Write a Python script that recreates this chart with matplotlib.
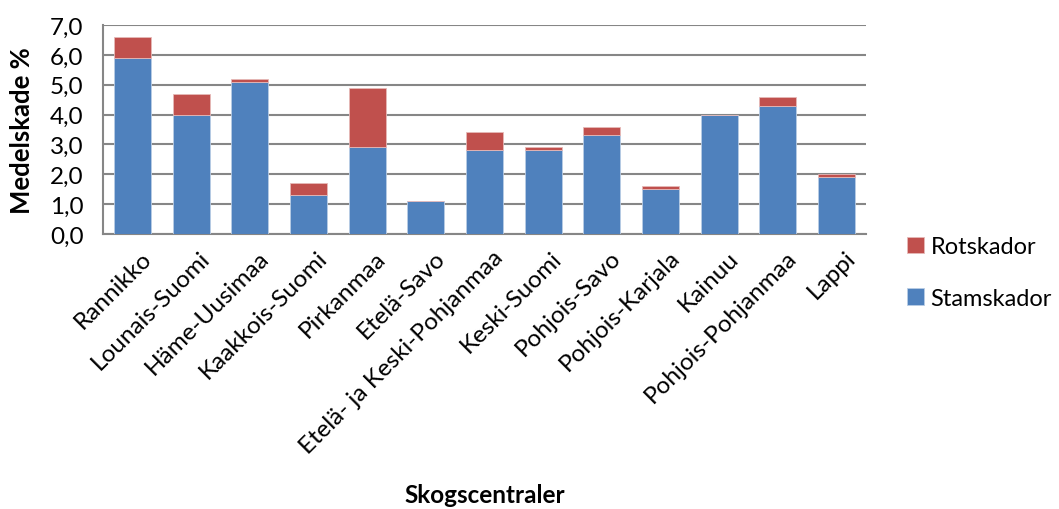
import matplotlib
matplotlib.use("Agg")
import matplotlib.pyplot as plt
from matplotlib.ticker import FuncFormatter
from matplotlib.transforms import ScaledTranslation

regions = ["Rannikko", "Lounais-Suomi", "Häme-Uusimaa", "Kaakkois-Suomi",
           "Pirkanmaa", "Etelä-Savo", "Etelä- ja Keski-Pohjanmaa", "Keski-Suomi",
           "Pohjois-Savo", "Pohjois-Karjala", "Kainuu", "Pohjois-Pohjanmaa", "Lappi"]
stamskador = [5.9, 4.0, 5.1, 1.3, 2.9, 1.1, 2.8, 2.8, 3.3, 1.5, 4.0, 4.3, 1.9]
rotskador = [0.7, 0.7, 0.1, 0.4, 2.0, 0.0, 0.6, 0.1, 0.3, 0.1, 0.0, 0.3, 0.1]

plt.rcParams['font.family'] = ['Lato', 'DejaVu Sans']

fig = plt.figure(figsize=(10.59, 5.10), dpi=100)
ax = fig.add_axes([103/1059, 1 - 235/510, (866 - 103)/1059, (235 - 26)/510])

x = range(len(regions))
blue = "#4F81BD"
red = "#C0504D"
b1 = ax.bar(x, stamskador, width=0.63, color=blue, edgecolor="#b9cde5",
            linewidth=0.6, label="Stamskador", zorder=3)
b2 = ax.bar(x, rotskador, width=0.63, bottom=stamskador, color=red,
            edgecolor="#e6b9b8", linewidth=0.6, label="Rotskador", zorder=3)

ax.set_xlim(-0.5, len(regions) - 0.5)
ax.set_ylim(0, 7)
ax.set_yticks(range(0, 8))
ax.yaxis.set_major_formatter(FuncFormatter(lambda v, p: f"{v:.1f}".replace(".", ",")))
ax.grid(axis="y", color="#868686", linewidth=1.5, zorder=0)
for side in ["top", "right"]:
    ax.spines[side].set_visible(False)
for side in ["left", "bottom"]:
    ax.spines[side].set_color("#868686")
    ax.spines[side].set_linewidth(1.5)
ax.tick_params(axis="y", length=0, labelsize=17.5, pad=14)
ax.tick_params(axis="x", length=0, labelsize=17.5, pad=9)
ax.set_xticks(list(x))
ax.set_xticklabels(regions, rotation=45, ha="right", rotation_mode="anchor")
shift = ScaledTranslation(8 / 100, 0, fig.dpi_scale_trans)
for lbl in ax.get_xticklabels():
    lbl.set_transform(lbl.get_transform() + shift)

ax.set_ylabel("Medelskade %", fontsize=18.5, fontweight="bold")
ax.yaxis.set_label_coords(-0.09, 0.5)
ax.set_xlabel("Skogscentraler", fontsize=17.5, fontweight="bold")
ax.xaxis.set_label_coords(0.5, -1.19)

leg = ax.legend([b2, b1], ["Rotskador", "Stamskador"], loc="center left",
                bbox_to_anchor=(1.026, -0.185), frameon=False, fontsize=17,
                handlelength=0.7, handleheight=0.7, handletextpad=0.3,
                labelspacing=1.3)

fig.savefig("out.png", dpi=100)
